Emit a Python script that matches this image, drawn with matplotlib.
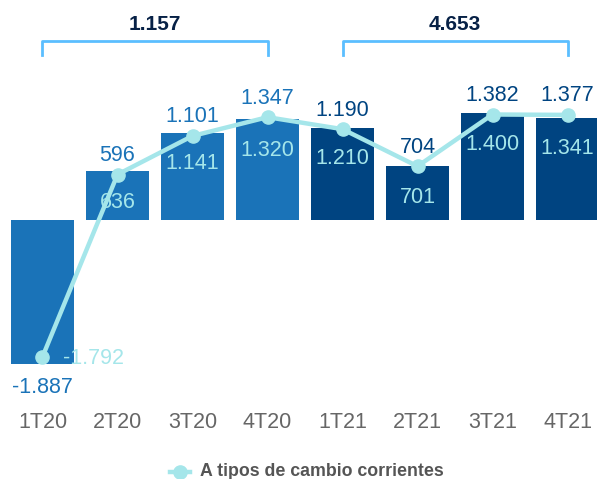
import matplotlib

matplotlib.use("Agg")
import matplotlib.pyplot as plt

plt.rcParams["font.family"] = ["Liberation Sans", "DejaVu Sans"]

QUARTERS = ["1T20", "2T20", "3T20", "4T20", "1T21", "2T21", "3T21", "4T21"]
BAR_VALUES = [-1887, 636, 1141, 1320, 1210, 701, 1400, 1341]
LINE_VALUES = [-1792, 596, 1101, 1347, 1190, 704, 1382, 1377]
YEAR_TOTALS = [1157, 4653]
LEGEND_LABEL = "A tipos de cambio corrientes"

BLUE_2020 = "#1a73b8"
NAVY_2021 = "#004481"
LINE_COLOR = "#a5e6ea"
BRACKET_COLOR = "#5bbeff"
TITLE_COLOR = "#072146"
GRAY = "#666666"

W, H = 597, 479
UNITS_PER_PX = 13.1
ZERO_PX = 220  # pixel row of the zero line, from the top
LABEL_SIZE = 15.5


def fmt(v):
    return f"{v:,}".replace(",", ".")


def y_at(px):
    return (ZERO_PX - px) * UNITS_PER_PX


def x_at(px):
    return (px - 42.5) / 75.0


fig = plt.figure(figsize=(W / 100, H / 100), dpi=100)
ax = fig.add_axes([0, 0, 1, 1])
ax.set_xlim(x_at(0), x_at(W))
ax.set_ylim(y_at(H), y_at(0))
ax.axis("off")

xs = list(range(len(QUARTERS)))
colors = [BLUE_2020 if q.endswith("20") else NAVY_2021 for q in QUARTERS]
ax.bar(xs, BAR_VALUES, width=0.84, color=colors, zorder=1)

# values inside the bars
for x, v, c in zip(xs, BAR_VALUES, colors):
    if v >= 0:
        ax.annotate(fmt(v), (x, v), xytext=(0, -31), textcoords="offset pixels",
                    ha="center", va="center", fontsize=LABEL_SIZE, color=LINE_COLOR, zorder=2)
    else:
        ax.annotate(fmt(v), (x, v), xytext=(0, -23), textcoords="offset pixels",
                    ha="center", va="center", fontsize=LABEL_SIZE, color=c, zorder=2)

ax.plot(xs, LINE_VALUES, color=LINE_COLOR, lw=3.2, marker="o", markersize=9.5, zorder=3)

for x, v, c in zip(xs, LINE_VALUES, colors):
    if v >= 0:
        ax.annotate(fmt(v), (x, v), xytext=(0, 19), textcoords="offset pixels",
                    ha="center", va="center", fontsize=LABEL_SIZE, color=c, zorder=4)
    else:
        ax.annotate(fmt(v), (x, v), xytext=(21, -2), textcoords="offset pixels",
                    ha="left", va="center", fontsize=LABEL_SIZE, color=LINE_COLOR, zorder=4)

# year brackets
for i, total in enumerate(YEAR_TOTALS):
    x0, x1 = 4 * i, 4 * i + 3
    ax.plot([x0, x0, x1, x1], [y_at(55), y_at(41), y_at(41), y_at(55)],
            color=BRACKET_COLOR, lw=2, solid_joinstyle="round", clip_on=False)
    ax.text((x0 + x1) / 2, y_at(25), fmt(total), ha="center", va="center",
            fontsize=15, fontweight="bold", color=TITLE_COLOR)

# category labels
for x, q in zip(xs, QUARTERS):
    ax.text(x, y_at(423), q, ha="center", va="center", fontsize=LABEL_SIZE, color=GRAY)

# legend
ax.plot([x_at(170), x_at(190)], [y_at(472), y_at(472)], color=LINE_COLOR, lw=3.2, clip_on=False)
ax.plot([x_at(180)], [y_at(472)], "o", color=LINE_COLOR, markersize=9.5, clip_on=False)
ax.text(x_at(200), y_at(472), LEGEND_LABEL, ha="left", va="center",
        fontsize=12.8, fontweight="bold", color="#555555")

fig.savefig("out.png", dpi=100)
